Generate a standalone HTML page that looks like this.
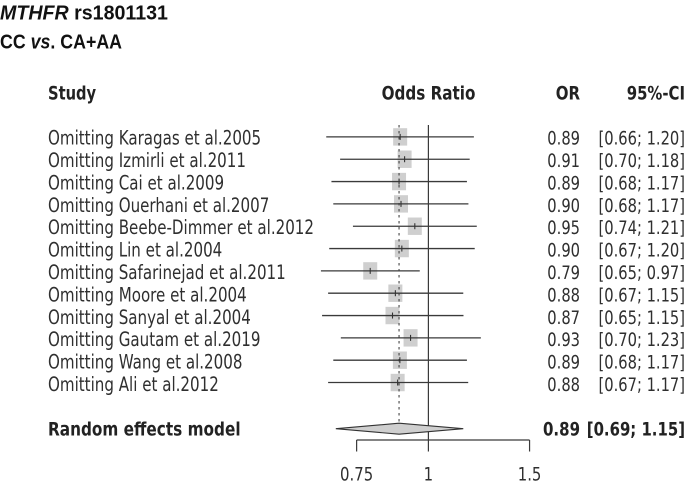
<!DOCTYPE html>
<html>
<head>
<meta charset="utf-8">
<title>Forest plot</title>
<style>
html,body{margin:0;padding:0;background:#fff;width:685px;height:481px;overflow:hidden}
svg{display:block}
text{font-family:"DejaVu Sans",sans-serif;fill:#2f2f2f}
.title{font-family:"Liberation Sans",sans-serif;font-weight:bold;font-size:20px;fill:#111}
.b{font-weight:bold;fill:#222}
</style>
</head>
<body>
<svg id="plot" width="685" height="481" viewBox="0 0 685 481" xmlns="http://www.w3.org/2000/svg">
  <text class="title" x="0" y="19.5" textLength="168" lengthAdjust="spacingAndGlyphs"><tspan font-style="italic">MTHFR</tspan> rs1801131</text>
  <text class="title" x="0" y="48.5" textLength="122" lengthAdjust="spacingAndGlyphs">CC <tspan font-style="italic">vs</tspan>. CA+AA</text>
</svg>
<script>
const studies = ["Karagas et al.2005","Izmirli et al.2011","Cai et al.2009","Ouerhani et al.2007","Beebe-Dimmer et al.2012","Lin et al.2004","Safarinejad et al.2011","Moore et al.2004","Sanyal et al.2004","Gautam et al.2019","Wang et al.2008","Ali et al.2012"];
const orValues = [0.893,0.909,0.889,0.896,0.947,0.899,0.792,0.876,0.866,0.931,0.892,0.884];
const ciLower = [0.664,0.702,0.678,0.683,0.739,0.672,0.650,0.669,0.653,0.704,0.683,0.669];
const ciUpper = [1.200,1.180,1.167,1.174,1.214,1.204,0.966,1.150,1.151,1.234,1.167,1.173];
const modelOr = 0.889;
const modelLower = 0.69;
const modelUpper = 1.15;
const axisTicks = [0.75,1,1.5];
const axisTickLabels = ["0.75","1","1.5"];

const svg = document.getElementById('plot');
const NS = 'http://www.w3.org/2000/svg';
const xScale = v => 428.4 + 249.5 * Math.log(v);
const rowY = i => 136.9 + 22.33 * i;
const textY = i => 144.6 + 22.4 * i;
const MODEL_Y = 428.7;

function mk(tag, attrs) {
  const el = document.createElementNS(NS, tag);
  for (const k in attrs) el.setAttribute(k, attrs[k]);
  svg.appendChild(el);
  return el;
}
// size = font size, em = horizontally scaled size (the reference text is condensed)
function label(str, x, y, anchor, bold, size, em) {
  const el = mk('text', {
    transform: 'translate(' + x + ',' + y + ') scale(' + (em / size) + ',1)',
    'text-anchor': anchor,
    'font-size': size
  });
  if (bold) el.setAttribute('class', 'b');
  el.textContent = str;
  return el;
}
const LINE = '#3a3a3a';

let el;
el = label('Study', 48, 99.7, 'start', true, 19, 14.7);


el = label('Odds Ratio', 428.5, 99.7, 'middle', true, 19, 15.2);


el = label('OR', 580, 99.7, 'end', true, 19, 15);


el = label('95%-CI', 685, 99.7, 'end', true, 19, 14.9);



// boxes first, so the reference lines sit on top of them
studies.forEach((s, i) => {
  const box = mk('rect', {
    x: xScale(orValues[i]) - 7, y: rowY(i) - 8.7, width: 14, height: 17.4, fill: '#cfcfcf'
  });
  
  
});

el = mk('line', {x1: xScale(1), x2: xScale(1), y1: 125, y2: 440, stroke: LINE, 'stroke-width': 1.2});



el = mk('line', {x1: xScale(modelOr), x2: xScale(modelOr), y1: 125, y2: 424, stroke: '#444', 'stroke-width': 1.1, 'stroke-dasharray': '2.5 3.5'});



studies.forEach((s, i) => {
  const y = rowY(i);
  const ty = textY(i);
  const ci = mk('line', {x1: xScale(ciLower[i]), x2: xScale(ciUpper[i]), y1: y, y2: y, stroke: LINE, 'stroke-width': 1.3});
  
  
  const tick = mk('line', {x1: xScale(orValues[i]), x2: xScale(orValues[i]), y1: y - 3, y2: y + 3, stroke: '#333', 'stroke-width': 1.1});
  
  
  const name = label('Omitting ' + s, 48, ty, 'start', false, 19.5, 15.1);
  
  
  const orText = label(orValues[i].toFixed(2), 580, ty, 'end', false, 18.5, 14.7);
  
  
  const ciText = label('[' + ciLower[i].toFixed(2) + '; ' + ciUpper[i].toFixed(2) + ']', 685, ty, 'end', false, 18.5, 14.7);
  
  
});

const diamond = mk('polygon', {
  points: [
    xScale(modelLower) + ',' + MODEL_Y,
    xScale(modelOr) + ',' + (MODEL_Y - 5.5),
    xScale(modelUpper) + ',' + MODEL_Y,
    xScale(modelOr) + ',' + (MODEL_Y + 5.5)
  ].join(' '),
  fill: '#cfcfcf', stroke: '#333', 'stroke-width': 1.1
});



el = label('Random effects model', 48, MODEL_Y + 7, 'start', true, 19, 15.3);


el = label(modelOr.toFixed(2), 580, MODEL_Y + 7, 'end', true, 19, 15);


el = label('[' + modelLower.toFixed(2) + '; ' + modelUpper.toFixed(2) + ']', 685, MODEL_Y + 7, 'end', true, 19, 14.9);



el = mk('line', {
  x1: xScale(axisTicks[0]), x2: xScale(axisTicks[axisTicks.length - 1]),
  y1: 440, y2: 440, stroke: LINE, 'stroke-width': 1.2
});



axisTicks.forEach((t, i) => {
  const tk = mk('line', {x1: xScale(t), x2: xScale(t), y1: 440, y2: 451.5, stroke: LINE, 'stroke-width': 1.2});
  
  
  const tl = label(axisTickLabels[i], xScale(t), 480.5, 'middle', false, 18.5, 14.9);
  
  
});
</script>
</body>
</html>
